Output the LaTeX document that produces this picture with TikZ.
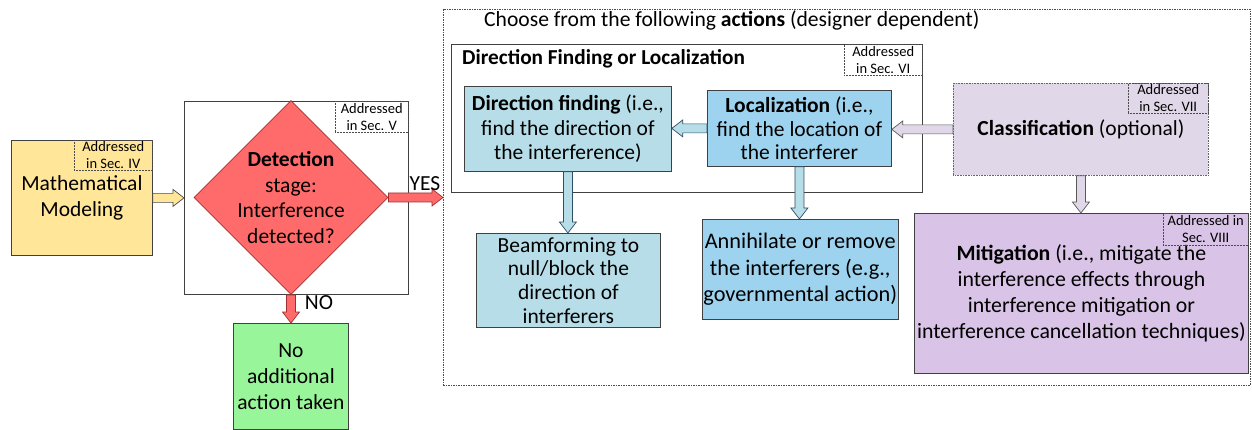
\documentclass[tikz,border=0pt]{standalone}
\usepackage{fontspec}
\setmainfont{Carlito}
\usetikzlibrary{shapes.geometric,calc}
\definecolor{cMath}{HTML}{FFE699}
\definecolor{cRed}{HTML}{FF6B6B}
\definecolor{cRedD}{HTML}{A03030}
\definecolor{cGreen}{HTML}{99F599}
\definecolor{cBlueL}{HTML}{B7DEE8}
\definecolor{cBlue}{HTML}{9DD3EE}
\definecolor{cBlueD}{HTML}{2F4F66}
\definecolor{cLav}{HTML}{E0D8E8}
\definecolor{cPurp}{HTML}{D9C3E6}
\newcommand\blockarr[3][]{%
  \path let \p1=(#2), \p2=(#3) in \pgfextra{%
    \pgfmathsetmacro\barang{atan2(\y2-\y1,\x2-\x1)}%
    \pgfmathsetmacro\barlen{veclen(\x2-\x1,\y2-\y1)}%
    \global\let\barang\barang\global\let\barlen\barlen};
  \begin{scope}[shift={(#2)}, rotate=\barang]
    \draw[#1] (0,-4.5) -- ({\barlen-11},-4.5) -- ({\barlen-11},-8.5) -- (\barlen,0)
      -- ({\barlen-11},8.5) -- ({\barlen-11},4.5) -- (0,4.5) -- cycle;
  \end{scope}}
\tikzset{
  box/.style={draw=black!75, line width=0.8pt, rectangle, inner sep=1pt, align=center, anchor=north west},
  smallbox/.style={draw=black!70, densely dotted, line width=0.5pt, rectangle, inner sep=0pt, align=center, anchor=north west, font=\fontsize{14.5}{17}\selectfont},
  fbig/.style={font=\fontsize{21.5}{26}\selectfont},
  fmid/.style={font=\fontsize{21.5}{24.5}\selectfont},
  yarrow/.style={fill=cMath, draw=black!70, line width=0.7pt},
  rarrow/.style={fill=cRed, draw=cRedD, line width=0.7pt},
  barrow/.style={fill=cBlueL, draw=cBlueD, line width=0.7pt},
  larrow/.style={fill=cLav, draw=black!65, line width=0.7pt},
  lbl/.style={inner sep=0pt, font=\fontsize{21.5}{24}\selectfont}
}
\begin{document}
\begin{tikzpicture}[x=1pt,y=-1pt]
\useasboundingbox (0,0) rectangle (1252,430);
% left part
\node[box, fbig, fill=cMath, minimum width=141pt, minimum height=115pt] (math) at (11,140) {Mathematical\\Modeling};
\node[smallbox, minimum width=78pt, minimum height=30pt] (mathsec) at (74,140) {Addressed\\in Sec. IV};
\node[box, minimum width=224pt, minimum height=193pt] (detbox) at (184,101) {};
\node[diamond, draw=cRedD, line width=0.8pt, fill=cRed, minimum width=194pt, minimum height=194pt, inner sep=0pt] (dia) at (291,197.5) {};
\node[smallbox, minimum width=73pt, minimum height=31pt] (detsec) at (335,101) {Addressed\\in Sec. V};
\node[font=\fontsize{21.5}{25.7}\selectfont, align=center, inner sep=0pt] (dettext) at (dia.center) {\textbf{Detection}\\stage:\\Interference\\detected?};
\node[box, fbig, fill=cGreen, minimum width=115pt, minimum height=106pt] (noact) at (233,323) {No\\additional\\action taken};
% actions region
\node[draw=black!70, dash pattern=on 1.5pt off 1pt, line width=0.6pt, rectangle, anchor=north west, minimum width=807pt, minimum height=376pt] (actions) at (443,9) {};
\node[anchor=west, inner sep=0pt, font=\fontsize{21.6}{24}\selectfont] (title) at (484,20) {Choose from the following \textbf{actions} (designer dependent)};
\node[box, minimum width=471pt, minimum height=148pt] (dfl) at (451,44) {};
\node[anchor=west, inner sep=0pt, font=\fontsize{21.3}{24}\selectfont\bfseries] (dfltitle) at (462,59) {Direction Finding or Localization};
\node[smallbox, minimum width=78pt, minimum height=31pt] (dflsec) at (844,44) {Addressed\\in Sec. VI};
\node[box, fmid, fill=cBlueL, minimum width=207pt, minimum height=85pt] (df) at (464,86) {\textbf{Direction finding} (i.e.,\\find the direction of\\the interference)};
\node[box, font=\fontsize{21.5}{23.5}\selectfont, fill=cBlue, minimum width=184pt, minimum height=76pt] (loc) at (707,90) {\textbf{Localization} (i.e.,\\find the location of\\the interferer};
\node[box, fbig, fill=cLav, draw=black!60, dash pattern=on 1pt off 0.6pt, minimum width=255pt, minimum height=92pt] (cls) at (953,83) {\textbf{Classification} (optional)};
\node[smallbox, minimum width=80pt, minimum height=30pt] (clssec) at (1128,83) {Addressed\\in Sec. VII};
\node[box, font=\fontsize{21.8}{26}\selectfont, fill=cPurp, minimum width=334pt, minimum height=160pt] (mit) at (914,213) {\textbf{Mitigation} (i.e., mitigate the\\interference effects through\\interference mitigation or\\interference cancellation techniques)};
\node[smallbox, minimum width=85pt, minimum height=32pt] (mitsec) at (1163,213) {Addressed in\\Sec. VIII};
\node[box, font=\fontsize{21.5}{23.7}\selectfont, fill=cBlueL, minimum width=184pt, minimum height=94pt] (beam) at (476,233) {Beamforming to\\null/block the\\direction of\\interferers};
\node[box, font=\fontsize{22.3}{26.5}\selectfont, fill=cBlue, minimum width=194pt, minimum height=100pt] (ann) at (702,219) {Annihilate or remove\\the interferers (e.g.,\\governmental action)};
% arrows
\blockarr[yarrow]{math.east}{math.east -| detbox.west}
\blockarr[rarrow]{dia.east}{dia.east -| actions.west}
\blockarr[rarrow]{dia.south}{dia.south |- noact.north}
\blockarr[barrow]{loc.west}{loc.west -| df.east}
\blockarr[larrow]{cls.west}{cls.west -| loc.east}
\blockarr[barrow]{df.south}{df.south |- beam.north}
\blockarr[barrow]{loc.south}{loc.south |- ann.north}
\blockarr[larrow]{cls.south}{cls.south |- mit.north}
% labels
\node[lbl] (yes) at (425,184) {YES};
\node[lbl] (no) at (319,303) {NO};
\end{tikzpicture}
\end{document}
